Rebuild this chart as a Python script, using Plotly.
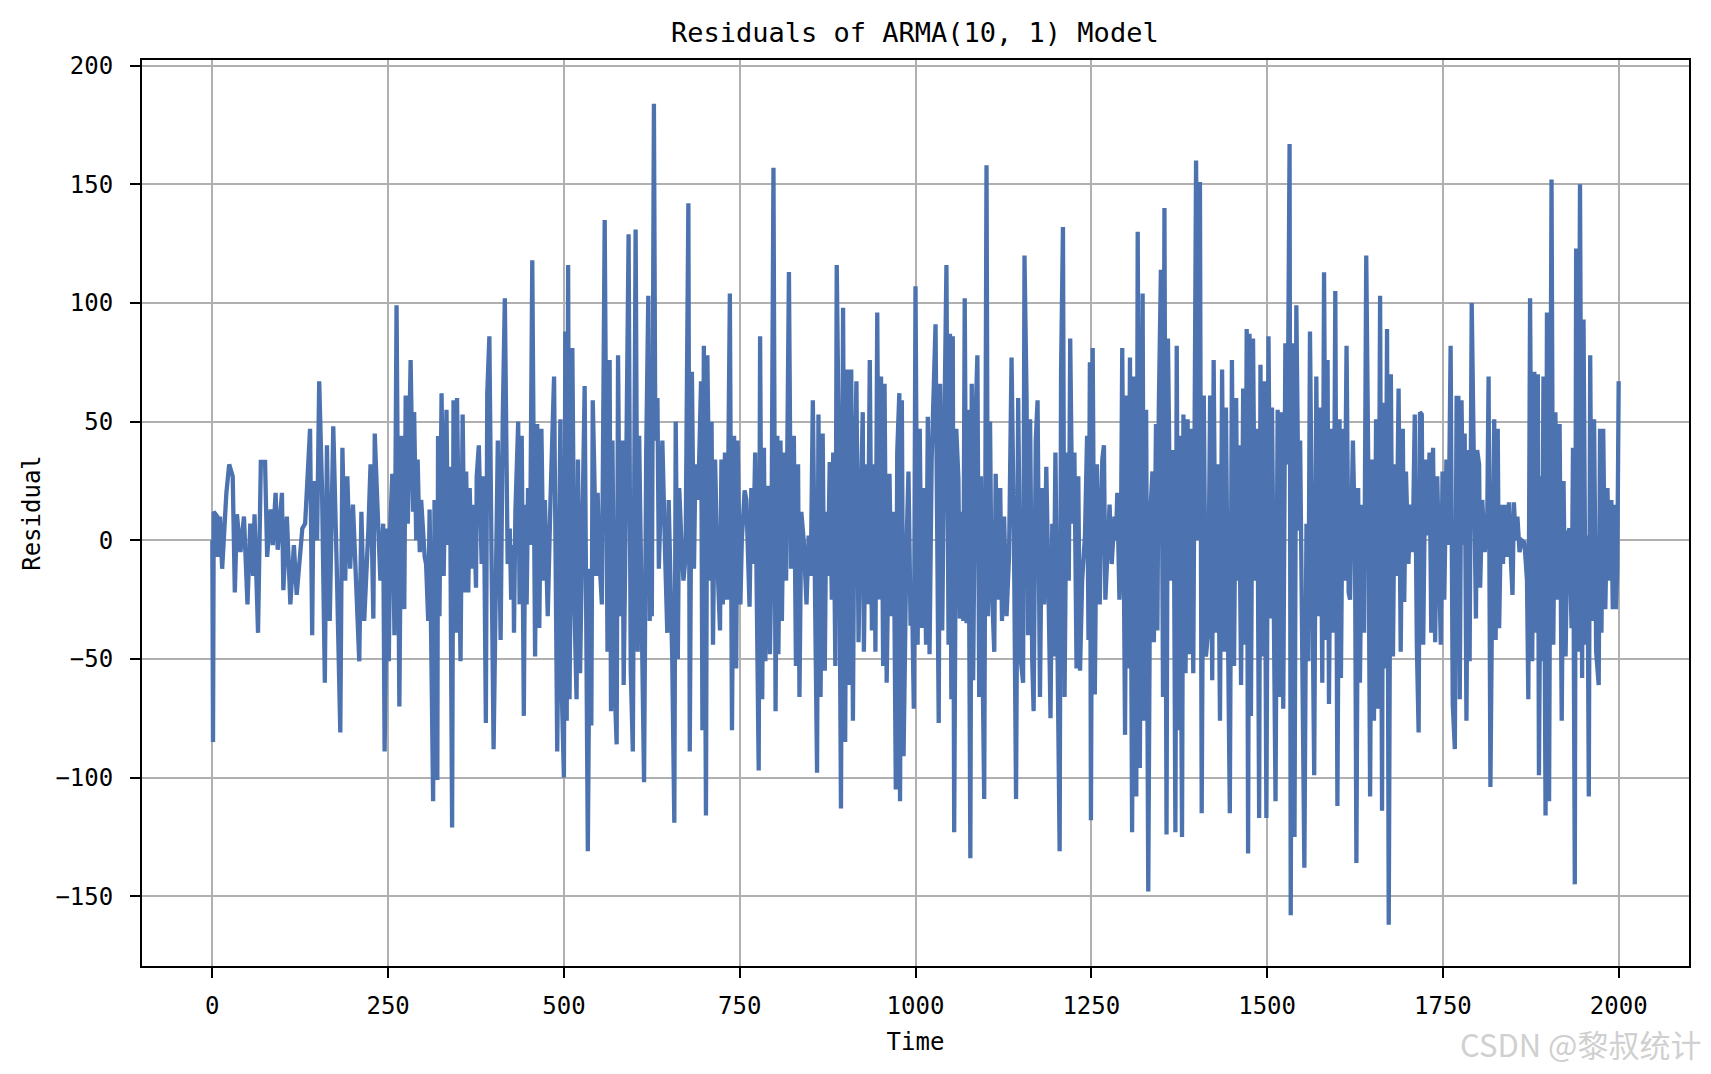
import plotly.graph_objects as go

# residuos (tiempo, valor), por tramos
t_a = [0, 1, 2, 7, 8, 11, 14, 16.5, 20, 24, 29, 32, 35, 40, 45, 50, 54, 58, 60, 65,
       69, 75, 78, 83, 86, 90, 93, 99, 101, 106, 111, 116, 120, 128, 132, 139, 142, 144, 149, 152,
       156, 160, 163, 167, 172, 177, 182, 185, 189, 192, 196, 200, 209, 212, 216, 222, 225, 229, 231, 234,
       239, 243, 245, 249, 251, 253, 256, 259, 262, 266, 269, 273, 275, 278, 282, 285.5, 287, 290, 292, 295,
       297, 302, 304, 307, 309, 314, 316, 320, 321, 323, 326, 329, 333, 335, 338, 341, 343, 347, 348, 353,
       356, 359, 361, 364, 366, 369, 372, 375, 376, 379, 383, 386, 389, 391, 394, 397, 400, 406, 410, 413,
       416, 420, 423, 425, 428, 429, 431, 435, 437, 440, 443, 445, 447, 449, 452, 455, 459, 462, 465, 468,
       471, 473, 477, 481, 486, 490.5, 495]
v_a = [0, -85, 12, 10, -7, 10, -12, 2, 20, 32, 27, -22, 11, -5, 10, -27, 7, -15, 11, -39,
       33, 33, -7, 13, -2, 20, -4, 20, -21, 10, -27, -2, -23, 5, 7, 47, -40, 25, 0, 67,
       22, -60, 40, -34, 48, -12, -81, 39, -17, 27, -12, 15, -51, 12, -34, 5, 32, -33, 45, 21,
       -17, 7, -89, 5, -51, 6, 28, -40, 99, -70, 44, -29, 61, 7, 76, 12, 54, 0, 34, -5,
       17, -7, -10, -34, 13, -110, 17, -101, 44, -32, 62, -15, 55, -2, 31, -121, 59, -39, 60, -51,
       53, -22, 29, -22, 22, -12, 15, -20, 27, 40, -10, 27, -77, 62, 86, -5, -88, 42, -42, 51,
       102, -10, 5, -25, -2, -39, 12, 50, -27, 44, -74, 15, -27, 22, -2, 118, -49, 49, -37, 47,
       -17, 17, -32, 18, 69, -89, 51]

t_b = [497, 500, 502, 504, 506, 508, 512, 515, 518, 520, 523, 526, 529.5, 534, 537, 539, 541, 543, 546, 548,
       550, 554, 558, 562, 565, 567, 569, 572, 575, 577, 580, 583, 585, 588, 592, 595, 598, 602, 605, 607,
       611, 614, 617, 620, 622, 624, 625, 628, 630, 633, 635, 640, 644, 647, 649, 652, 654, 657, 659, 662,
       664, 667, 670, 673, 677, 679, 682, 685, 687, 691, 695, 697, 699, 702, 704, 708, 710, 712, 715, 718,
       722, 724, 726, 729, 732, 736, 739, 742, 745, 747, 751, 753, 757, 759.5, 762, 764, 766.5, 769, 772, 774,
       777, 779, 782, 784.5, 786.5, 790, 793, 795, 798, 801, 803.5, 805, 808, 810, 813, 816, 818, 820, 823, 827,
       830, 833, 835, 837.6, 841, 845, 848, 851, 854, 857.5, 860, 862, 865, 868, 871, 873, 875.5, 878, 881, 883,
       886, 888, 891, 894, 897, 900, 902.5, 905, 908.6, 911, 913, 916, 919, 922, 925, 926.6, 930, 932, 935, 938,
       941, 943, 945.6, 948, 951, 954, 956, 959, 963, 966, 969, 972, 974, 977, 978, 980.6, 983, 987, 990, 993,
       995, 997.6]
v_b = [-64, -100, 88, -76, 116, -67, 81, -29, -67, 34, -56, 17, 65, -131, -12, -78, 59, 32, -15, 20,
       -5, -27, 135, -47, 76, -72, 42, -60, -86, 78, -32, 42, -61, 12, 129, -54, -89, 131, -47, 44,
       -42, -102, 37, 103, -34, 10, -32, 184, 42, 60, -12, 42, -7, -39, 17, -25, -49, -119, 50, -50,
       22, 0, -17, -7, 142, -89, 71, -12, 32, 17, 67, -80, 82, -116, 78, -17, 50, -44, 34, -7,
       -38, 34, -27, 37, -25, 104, -80, 44, -54, 42, -27, 0, 21, 17, -10, -28, 22, -10, 37, -29,
       -97, 86, -67, 39, -51, 23, -48, -12, 157, -72, 44, -48, 42, -34, 37, -17, 39, 113, -12, 44,
       -53, 32, -66, 12, 0, -27, 2, -15, 59, -42, -98, 53, -66, 45, -55, 12, -15, 33, -25, 37,
       -53, 116, 37, -113, 98, -85, 72, -61, 72, -76, 17, 67, -43, 15, 54, -47, 32, -27, 76, -38,
       32, -47, 96, -25, 69, -53, 66, -60, 28, -32, 12, -105, 37, 62, -110, 59, -91, -5, 29, -36,
       -22, -71]

t_c = [1000, 1003, 1006, 1009, 1012, 1015, 1017.5, 1020, 1023, 1028.5, 1031, 1033, 1035, 1038, 1041, 1044, 1047, 1049, 1051, 1053,
       1055, 1058, 1061, 1063, 1065.5, 1068, 1070, 1072.6, 1075, 1078, 1080, 1082, 1085, 1088, 1090.6, 1093, 1095, 1097.7, 1101, 1103,
       1106, 1108, 1112, 1114, 1118, 1120.5, 1123, 1126, 1129.5, 1133, 1136.6, 1140, 1143, 1146, 1150, 1153, 1155, 1158, 1160, 1163,
       1166, 1168, 1171, 1173.6, 1177, 1180, 1183, 1186, 1189, 1192, 1194.5, 1196, 1199, 1202, 1205, 1207, 1209.7, 1212, 1215, 1218,
       1220, 1223, 1226, 1229, 1231.5, 1234, 1237, 1241, 1244, 1246, 1248, 1249.5, 1252, 1255, 1258, 1262, 1265.6, 1268, 1270, 1273,
       1276, 1279, 1283, 1285, 1287, 1290, 1292, 1294, 1298, 1300.6, 1302.5, 1305, 1308, 1311, 1314, 1316, 1319, 1323, 1325, 1328,
       1331, 1334, 1337, 1339, 1342, 1344, 1346, 1349, 1352, 1354, 1357, 1359, 1363, 1367, 1369.6, 1371.5, 1374, 1376, 1379, 1381,
       1384, 1387, 1389, 1392, 1395, 1399, 1402, 1404.5, 1407, 1410, 1413, 1416, 1419, 1422, 1424, 1427, 1430, 1433, 1436, 1439,
       1441.5, 1444, 1447, 1450, 1453, 1456, 1458, 1460, 1463, 1466, 1469, 1471, 1473, 1475, 1477, 1480, 1483, 1486, 1488.7, 1490.6,
       1493, 1496]
v_c = [107, -44, 47, -37, 22, -44, 52, -48, 34, 91, -39, -77, 66, -38, 47, 116, -44, 87, -67, 86,
       -123, 47, 26, -33, 12, -34, 102, -35, 55, -134, 66, -59, 47, 78, -66, 27, -42, -109, 158, -32,
       50, -15, -47, 28, -25, 22, -34, 10, -32, -7, 77, 0, -109, 60, -51, -60, 120, 59, -40, 51,
       -51, -72, 42, 59, -66, 22, -27, 31, -18, -75, 7, -49, 37, -47, -131, 71, 132, -66, 37, -17,
       85, 7, 37, -54, 27, -55, -17, 2, 44, -42, 75, -118, 81, -65, 32, -27, 34, 40, -25, -5,
       15, -10, 10, 0, 20, -25, -6, 81, -82, 61, -54, 77, -123, 69, -108, 130, -96, 104, -76, 55,
       -148, 12, 29, -43, 49, -38, 56, 114, -66, 140, -124, 85, -17, 38, -123, 82, -80, 44, -125, 53,
       -56, 51, -48, 47, -56, 160, 0, 151, -115, 61, -49, -39, 61, -59, 76, -39, 32, -76, 72, -47,
       56, -27, -115, 76, -53, 60, -17, 40, -61, 64, -44, 89, -132, 87, -74, 85, -17, 47, -117, 74,
       -49, 67]

t_d = [1499, 1502, 1505, 1507, 1509.5, 1512, 1515, 1518, 1520, 1523, 1526, 1529, 1532, 1533.6, 1536, 1539, 1541.6, 1545, 1547, 1550,
       1553, 1556, 1558.6, 1561, 1564, 1567, 1570, 1573, 1575.6, 1578.5, 1581, 1584, 1586, 1588, 1591, 1594.5, 1597, 1600, 1603, 1605,
       1608, 1610, 1613, 1616, 1618, 1622, 1625, 1627, 1629.5, 1632, 1635, 1638, 1641, 1643.7, 1646.5, 1649, 1652, 1655, 1658, 1660.7,
       1663.5, 1665, 1668, 1670.6, 1673, 1676, 1679, 1681.5, 1684, 1687, 1690, 1693, 1695, 1697.5, 1701, 1704, 1707, 1710, 1713, 1715.5,
       1717.4, 1720, 1722, 1725, 1728, 1731, 1733.5, 1736, 1739, 1742, 1744, 1747, 1749.5, 1752, 1755, 1758, 1761, 1764, 1767, 1769.5,
       1772, 1774, 1776.5, 1779, 1781, 1783.5, 1786, 1788, 1791, 1794, 1797, 1798.7, 1801.5, 1803, 1806, 1809.5, 1813, 1815, 1817.6, 1820.5,
       1823, 1825, 1828, 1830, 1833, 1835.5, 1838, 1841, 1844, 1847, 1849, 1851, 1853.5, 1856, 1859, 1862, 1866, 1869.6, 1871.5, 1874,
       1877, 1880, 1883, 1885, 1886.6, 1889.4, 1891, 1893, 1896, 1898, 1901, 1904.5, 1907, 1910, 1913, 1916, 1919, 1921.6, 1924.5, 1927,
       1930, 1933, 1935, 1937.6, 1939.5, 1942, 1945, 1948, 1950, 1953, 1955.6, 1957.5, 1959.5, 1962, 1965, 1968, 1971.6, 1973.5, 1975.5, 1978,
       1981, 1984, 1987, 1989.6, 1991.6, 1994, 1996, 1998, 2000]
v_d = [-117, 86, -33, 56, -56, -110, 55, -66, 54, -71, 83, 32, 167, -158, 83, -125, 99, 4, 42, -54,
       -138, 7, -51, 88, -12, -99, 69, -32, 56, -60, 113, -42, 76, -69, 47, -39, 105, -112, 51, -58,
       47, -17, 82, -22, -25, 42, 0, -136, 22, -60, 15, -39, 120, 37, -108, 34, -76, 51, -71, 103,
       -114, 58, -54, 89, -162, 70, -49, 32, -15, 64, -47, 47, -26, 29, -10, 15, -5, 53, -45, -81,
       54, 53, -44, 34, 2, 37, -39, 39, -43, 27, -2, -44, 29, -25, 34, -2, 82, -69, -88, 60,
       60, -67, 59, -2, 45, -76, 38, -51, 100, 39, -33, 38, 32, -20, 17, -5, 7, 69, -104, -7,
       51, -42, 47, -37, 15, -10, 15, -7, 16, -10, -23, 16, 0, 10, -5, 0, -1, -17, -67, 102,
       -51, 71, -39, 70, -99, 27, -51, 69, -116, 96, -110, 152, -44, 54, -25, 49, -76, 25, -49, 2,
       5, -37, 39, -145, 123, -47, 150, -58, 93, -44, 2, -108, 78, -34, 51, -47, -61, 47, -39, 47,
       -29, 22, -17, 17, -29, 15, -29, -12, 67]

time = t_a + t_b + t_c + t_d
residual = v_a + v_b + v_c + v_d

x_ticks = [0, 250, 500, 750, 1000, 1250, 1500, 1750, 2000]
y_ticks = [-150, -100, -50, 0, 50, 100, 150, 200]

font_mono = "DejaVu Sans Mono"

fig = go.Figure()
fig.add_trace(
    go.Scatter(
        x=time,
        y=residual,
        mode="lines",
        line=dict(color="#4c72b0", width=4.3),
        showlegend=False,
    )
)

# el body del html tiene 8px de margen: la figura se reduce para caber en la ventana
fig.update_layout(
    width=1695,
    height=1058,
    margin=dict(l=134, r=12, t=52, b=100),
    paper_bgcolor="white",
    plot_bgcolor="white",
    font=dict(family=font_mono, size=24, color="black"),
    title=dict(
        text="Residuals of ARMA(10, 1) Model",
        x=0.535, xanchor="center",
        y=0.977, yanchor="middle",
        font=dict(family=font_mono, size=27, color="black"),
    ),
)
fig.update_xaxes(
    range=[-100, 2100],
    tickvals=x_ticks,
    showgrid=True, gridcolor="#b0b0b0", gridwidth=1.6,
    zeroline=False,
    showline=True, linecolor="black", linewidth=2, mirror=True,
    ticks="outside", ticklen=10, tickwidth=1.6, tickcolor="black",
    ticklabelstandoff=7,
    title=dict(text="Time", standoff=14, font=dict(size=24)),
)
fig.update_yaxes(
    range=[-179.4, 202.4],
    tickvals=y_ticks,
    showgrid=True, gridcolor="#b0b0b0", gridwidth=1.6,
    zeroline=False,
    showline=True, linecolor="black", linewidth=2, mirror=True,
    ticks="outside", ticklen=10, tickwidth=1.6, tickcolor="black",
    ticklabelstandoff=12,
    title=dict(text="Residual", standoff=8, font=dict(size=24)),
)

# marca de agua
fig.add_annotation(
    text="CSDN @黎叔统计",
    xref="paper", yref="paper",
    x=1.009, y=-0.086, xanchor="right", yanchor="middle",
    showarrow=False,
    font=dict(family="Noto Sans CJK SC", size=31, color="rgba(195,195,195,0.8)"),
)

fig.write_html("out.html")
